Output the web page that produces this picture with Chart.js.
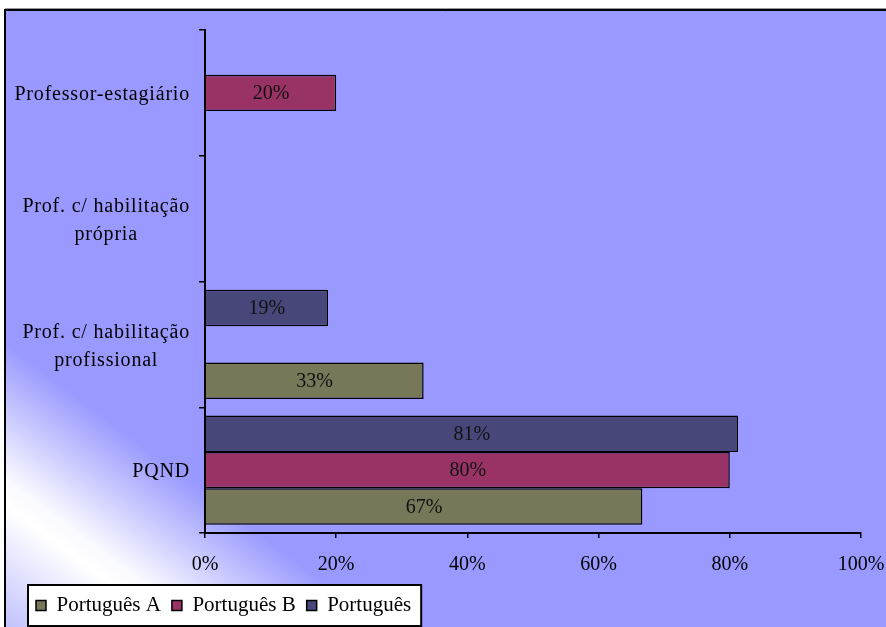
<!DOCTYPE html>
<html lang="pt">
<head>
<meta charset="UTF-8">
<title>Habilitação dos professores de Português</title>
<script src="https://cdn.jsdelivr.net/npm/chart.js"></script>
<style>
  html, body { margin: 0; padding: 0; background: #fff; }
  canvas { display: block; }
</style>
</head>
<body>
<canvas id="grafico" width="886" height="627"></canvas>
<script>
// categorias de cima para baixo (linhas de cada rótulo)
const categorias = [
  ['Professor-estagiário'],
  ['Prof. c/ habilitação', 'própria'],
  ['Prof. c/ habilitação', 'profissional'],
  ['PQND']
];
// valores em %, pela mesma ordem das categorias
const portugues  = [null, null, 18.75, 81.25];
const portuguesB = [20, null, null, 80];
const portuguesA = [null, null, 33.33, 66.67];
const ticksX = [0, 20, 40, 60, 80, 100];

const fonte = "'Liberation Serif', 'Times New Roman', serif";

// fundo com degradê, moldura e caixa da legenda
const fundo = {
  id: 'fundo',
  beforeDraw(chart) {
    const ctx = chart.ctx, w = chart.width, h = chart.height;
    ctx.save();
    ctx.fillStyle = '#fff';
    ctx.fillRect(0, 0, w, h);
    const g = ctx.createLinearGradient(-45, 617, 105, 417);
    g.addColorStop(0, '#b4b4ff');
    g.addColorStop(0.48, '#ffffff');
    g.addColorStop(0.56, '#fafaff');
    g.addColorStop(1, '#9999ff');
    ctx.fillStyle = g;
    ctx.fillRect(5, 10, w, h);
    ctx.strokeStyle = '#999';
    ctx.lineWidth = 1;
    ctx.beginPath(); ctx.moveTo(5, 8.5); ctx.lineTo(w, 8.5); ctx.stroke();
    ctx.strokeStyle = '#000';
    ctx.lineWidth = 2;
    ctx.beginPath(); ctx.moveTo(5, h + 2); ctx.lineTo(5, 10); ctx.lineTo(w + 2, 10); ctx.stroke();

    const hb = chart.legend.legendHitBoxes;
    if (hb && hb.length) {
      const a = hb[0], b = hb[hb.length - 1];
      const x0 = a.left - 8, x1 = b.left + b.width + 10;
      const y0 = a.top - 10, y1 = a.top + a.height + 10;
      ctx.fillStyle = '#fff';
      ctx.fillRect(x0, y0, x1 - x0, y1 - y0);
      ctx.strokeRect(x0, y0, x1 - x0, y1 - y0);
    }
    ctx.restore();
  }
};

// rótulos do eixo vertical: bloco alinhado à direita, linhas centradas
const rotulosY = {
  id: 'rotulosY',
  afterDraw(chart) {
    const ctx = chart.ctx, y = chart.scales.y;
    ctx.save();
    ctx.font = '20px ' + fonte;
    ctx.letterSpacing = '0.8px';
    ctx.fillStyle = '#000';
    ctx.textAlign = 'center';
    ctx.textBaseline = 'middle';
    const direita = y.right - 15;
    categorias.forEach((linhas, i) => {
      const cy = y.getPixelForTick(i) + 2;
      const larg = Math.max(...linhas.map(t => ctx.measureText(t).width));
      const cx = direita - larg / 2;
      linhas.forEach((t, k) => ctx.fillText(t, cx, cy + (k - (linhas.length - 1) / 2) * 28));
    });
    ctx.restore();
  }
};

// valores dentro das barras
const rotulosBarras = {
  id: 'rotulosBarras',
  afterDatasetsDraw(chart) {
    const ctx = chart.ctx;
    ctx.save();
    ctx.font = '20px ' + fonte;
    ctx.fillStyle = '#111';
    ctx.textAlign = 'center';
    ctx.textBaseline = 'middle';
    chart.data.datasets.forEach((ds, i) => {
      chart.getDatasetMeta(i).data.forEach((bar, j) => {
        const v = ds.data[j];
        if (v == null) return;
        ctx.fillText(Math.round(v) + '%', (bar.x + bar.base) / 2, bar.y + 1);
      });
    });
    ctx.restore();
  }
};

new Chart(document.getElementById('grafico'), {
  type: 'bar',
  data: {
    labels: categorias.map(l => l.join(' ')),
    datasets: [
      { label: 'Português', data: portugues, backgroundColor: '#47477a' },
      { label: 'Português B', data: portuguesB, backgroundColor: '#993366' },
      { label: 'Português A', data: portuguesA, backgroundColor: '#77775a' }
    ]
  },
  options: {
    indexAxis: 'y',
    responsive: false,
    animation: false,
    categoryPercentage: 0.867,
    barPercentage: 1,
    datasets: { bar: { borderColor: '#000', borderWidth: 1.5 } },
    layout: { padding: { top: 30, right: 25, bottom: 1, left: 25 } },
    scales: {
      x: {
        min: 0, max: 100,
        afterBuildTicks: s => { s.ticks = ticksX.map(v => ({ value: v })); },
        afterFit: s => { s.height = 51; s.paddingLeft = 0; s.paddingRight = 0; },
        ticks: { callback: v => v + '%', font: { family: fonte, size: 20 }, color: '#000', padding: 15, maxRotation: 0 },
        grid: { drawOnChartArea: false, tickLength: 5, color: '#000', lineWidth: 1.5 },
        border: { color: '#000', width: 2 }
      },
      y: {
        afterFit: s => { s.width = 180; },
        ticks: { display: false },
        grid: { drawOnChartArea: false, tickLength: 6, color: '#000', lineWidth: 1.5 },
        border: { color: '#000', width: 2 }
      }
    },
    plugins: {
      legend: {
        position: 'bottom',
        align: 'start',
        reverse: true,
        labels: { font: { family: fonte, size: 21 }, color: '#000', boxWidth: 10, boxHeight: 10, padding: 11 }
      },
      tooltip: { enabled: false }
    }
  },
  plugins: [fundo, rotulosY, rotulosBarras]
});
</script>
</body>
</html>
